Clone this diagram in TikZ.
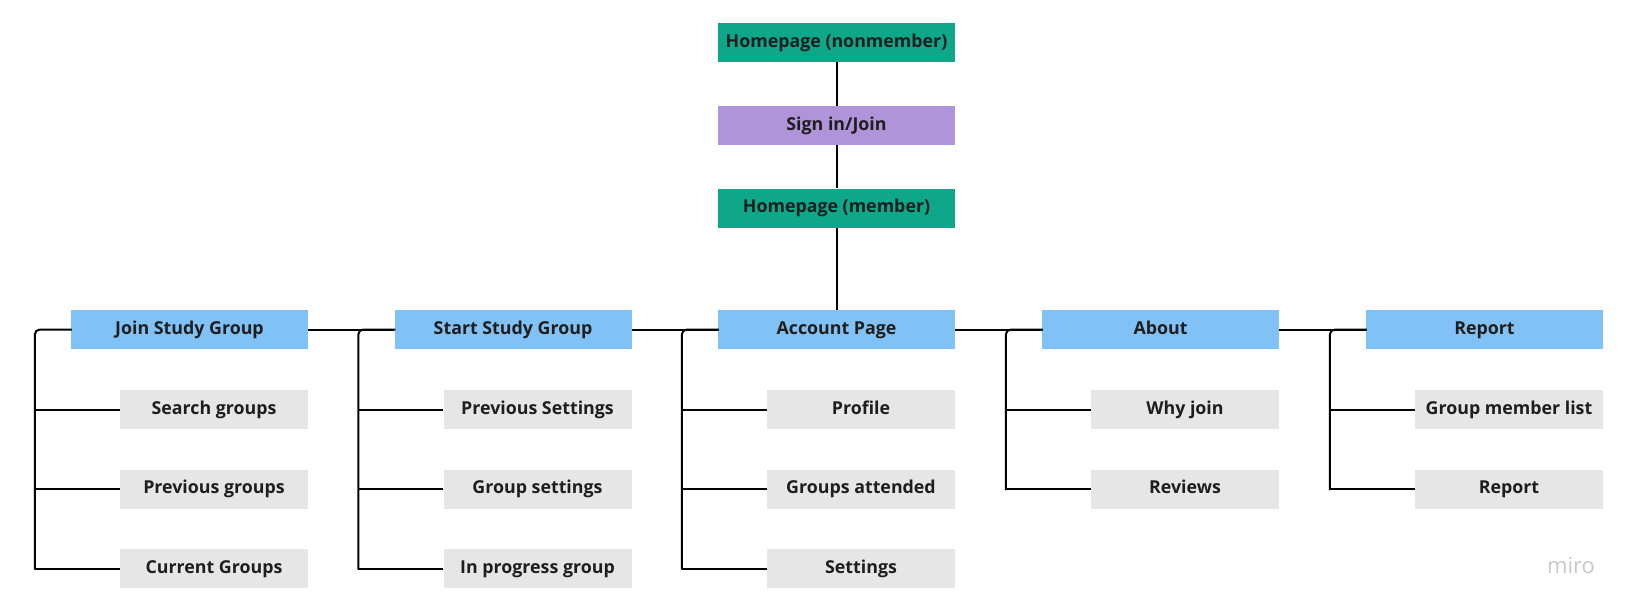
\documentclass[tikz,border=0pt]{standalone}
\usepackage{fontspec}
\setmainfont{Open Sans}
\usepackage{tikz}
\usetikzlibrary{positioning}
\definecolor{mirogreen}{RGB}{14,167,137}
\definecolor{miropurple}{RGB}{176,148,218}
\definecolor{miroblue}{RGB}{128,193,246}
\definecolor{mirogray}{RGB}{230,230,230}
\definecolor{mirotext}{RGB}{30,30,30}
\tikzset{
  pagebox/.style={rectangle,inner sep=0pt,minimum width=237pt,minimum height=39pt,
    text height=13pt,text depth=4pt,
    text=mirotext,font=\fontsize{17.8}{20}\selectfont\bfseries},
  greenbox/.style={pagebox,fill=mirogreen},
  purplebox/.style={pagebox,fill=miropurple},
  bluebox/.style={pagebox,fill=miroblue},
  graybox/.style={pagebox,fill=mirogray,minimum width=188pt},
  link/.style={line width=2pt,black},
  trunk/.style={link,rounded corners=5pt,line cap=rect}
}

\begin{document}
\begin{tikzpicture}[x=1pt,y=1pt]
      \useasboundingbox (0,0) rectangle (1635,-611);
      \node (hn) at (836.5,-42.5)[greenbox] {Homepage (nonmember)};
      \node (si) at (836.5,-125.5)[purplebox] {Sign in/Join};
      \node (hm) at (836.5,-208)[greenbox] {Homepage (member)};
      % second row
      \node (join) at (189.5,-329.5)[bluebox] {Join Study Group};
      \node (start) at (513,-329.5)[bluebox] {Start Study Group};
      \node (acc) at (836.5,-329.5)[bluebox] {Account Page};
      \node (about) at (1160.5,-329.5)[bluebox] {About};
      \node (rep) at (1484.5,-329.5)[bluebox] {Report};
      % pages under each one
      \node (j1) at (214,-409.5)[graybox] {Search groups};
      \node (j2) at (214,-489)[graybox] {Previous groups};
      \node (j3) at (214,-568.5)[graybox] {Current Groups};
      \node (s1) at (537.5,-409.5)[graybox] {Previous Settings};
      \node (s2) at (537.5,-489)[graybox] {Group settings};
      \node (s3) at (537.5,-568.5)[graybox] {In progress group};
      \node (a1) at (861,-409.5)[graybox] {Profile};
      \node (a2) at (861,-489)[graybox] {Groups attended};
      \node (a3) at (861,-568.5)[graybox] {Settings};
      \node (b1) at (1185,-409.5)[graybox] {Why join};
      \node (b2) at (1185,-489)[graybox] {Reviews};
      \node (r1) at (1509,-409.5)[graybox] {Group member list};
      \node (r2) at (1509,-489)[graybox] {Report};
      \node (logo) at (1571,-566)[text=black!22,font=\fontsize{22}{24}\selectfont] {miro};
      \coordinate[left=36pt of join.west] (tj);
      \coordinate[left=36pt of start.west] (ts);
      \coordinate[left=36pt of acc.west] (ta);
      \coordinate[left=36pt of about.west] (tb);
      \coordinate[left=36pt of rep.west] (tr);
        \draw [link] (hn.south) -- (si.north);
        \draw [link] (si.south) -- (hm.north);
        \draw [link] (hm.south) -- (acc.north);
        \draw [link] (join.east) -- (start.west);
        \draw [link] (start.east) -- (acc.west);
        \draw [link] (acc.east) -- (about.west);
        \draw [link] (about.east) -- (rep.west);
        \draw [trunk] (j3.west -| tj) -- (tj) -- (join.west);
        \draw [link] (j1.west) -- (j1.west -| tj);
        \draw [link] (j2.west) -- (j2.west -| tj);
        \draw [link] (j3.west) -- (j3.west -| tj);
        \draw [trunk] (s3.west -| ts) -- (ts) -- (start.west);
        \draw [link] (s1.west) -- (s1.west -| ts);
        \draw [link] (s2.west) -- (s2.west -| ts);
        \draw [link] (s3.west) -- (s3.west -| ts);
        \draw [trunk] (a3.west -| ta) -- (ta) -- (acc.west);
        \draw [link] (a1.west) -- (a1.west -| ta);
        \draw [link] (a2.west) -- (a2.west -| ta);
        \draw [link] (a3.west) -- (a3.west -| ta);
        \draw [trunk] (b2.west -| tb) -- (tb) -- (about.west);
        \draw [link] (b1.west) -- (b1.west -| tb);
        \draw [link] (b2.west) -- (b2.west -| tb);
        \draw [trunk] (r2.west -| tr) -- (tr) -- (rep.west);
        \draw [link] (r1.west) -- (r1.west -| tr);
        \draw [link] (r2.west) -- (r2.west -| tr);
        
        \end{tikzpicture}
\end{document}
